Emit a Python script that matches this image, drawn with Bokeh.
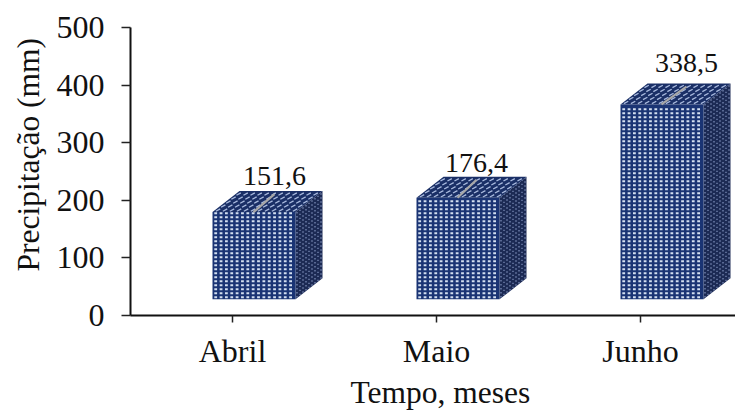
import numpy as np
from bokeh.embed import file_html
from bokeh.models import ColumnDataSource, FixedTicker, Label, Range1d, Title
from bokeh.plotting import figure
from bokeh.resources import INLINE

months = ["Abril", "Maio", "Junho"]
rain_mm = [151.6, 176.4, 338.5]
value_labels = ["151,6", "176,4", "338,5"]
y_ticks = [0, 100, 200, 300, 400, 500]

FONT = "Liberation Serif"
NAVY = "#1a3474"
TOP_NAVY = "#1a2f66"
SIDE_NAVY = "#1c2a54"
DOT = "#d3dff0"

W, H = 735, 411
LEFT, TOP, BOTTOM = 130, 27, 96
UNIT_X = 204.0          # pixels per category
UNIT_Y = 57.6 / 100.0   # pixels per millimetre
px = 1.0 / UNIT_X
py = 1.0 / UNIT_Y

floor_mm = 28.0         # the 3D floor lifts each column off the axis
bar_shift = 20 * px
bar_width = 83 * px
depth_x = 27 * px
depth_y = 21 * py

p = figure(width=W, height=H, output_backend="svg", toolbar_location=None,
           x_range=Range1d(0, (W - LEFT) / UNIT_X), y_range=Range1d(0, 500),
           min_border_left=LEFT, min_border_top=TOP, min_border_bottom=BOTTOM,
           min_border_right=0)
p.outline_line_color = None
p.grid.visible = False
p.background_fill_color = "white"

for ax, ticks in ((p.xaxis[0], [0.5, 1.5, 2.5]), (p.yaxis[0], y_ticks)):
    ax.ticker = FixedTicker(ticks=ticks)
    ax.axis_line_color = "#111111"
    ax.axis_line_width = 2
    ax.major_tick_line_color = "#222222"
    ax.major_tick_line_width = 1.5
    ax.major_tick_in = 0
    ax.minor_tick_line_color = None
    ax.major_label_text_font = FONT
    ax.major_label_text_font_size = "32px"
    ax.major_label_text_color = "#111111"
p.xaxis[0].major_tick_out = 7
p.yaxis[0].major_tick_out = 9
p.xaxis[0].major_label_overrides = {c + 0.5: m for c, m in enumerate(months)}
p.xaxis[0].major_label_standoff = 10
p.yaxis[0].major_label_standoff = 17


def add_dots(x, y, w, h, color):
    p.rect(x, y, width=w, height=h, fill_color=color, line_color=None)


for i, value in enumerate(rain_mm):
    x0 = i + 0.5 - bar_shift
    x1 = x0 + bar_width
    y0 = floor_mm
    y1 = floor_mm + value

    # side face
    p.patch([x1, x1 + depth_x, x1 + depth_x, x1],
            [y0, y0 + depth_y, y1 + depth_y, y1],
            fill_color=SIDE_NAVY, line_color=None)
    cols = np.arange(1.5, 27, 3.0)
    rows = np.arange(1.5, value * UNIT_Y, 4.0)
    cc, rr = np.meshgrid(cols, rows)
    sx = x1 + cc.ravel() * px
    sy = y0 + (rr.ravel() + cc.ravel() * 21 / 27) * py
    add_dots(sx, sy, 1.3 * px, 1.4 * py, "#7a8bb6")

    # top face
    p.patch([x0, x1, x1 + depth_x, x0 + depth_x],
            [y1, y1, y1 + depth_y, y1 + depth_y],
            fill_color=TOP_NAVY, line_color=None)
    us = np.arange(3, 83, 7.0)
    vs = np.arange(2, 21, 4.0)
    uu, vv = np.meshgrid(us, vs)
    tx = x0 + (uu.ravel() + vv.ravel() * 27 / 21) * px
    ty = y1 + vv.ravel() * py
    p.segment(tx - 2.2 * px, ty - 1.2 * py, tx + 2.2 * px, ty + 1.2 * py,
              line_color="#a9bade", line_width=1.3)

    # front face
    p.quad(left=[x0], right=[x1], bottom=[y0], top=[y1],
           fill_color=NAVY, line_color=None)
    cols = np.arange(3.2, 82, 5.35)
    rows = np.arange(2, value * UNIT_Y - 1, 4.0)
    cc, rr = np.meshgrid(cols, rows)
    add_dots(x0 + cc.ravel() * px, y0 + rr.ravel() * py, 2.8 * px, 2.0 * py, DOT)

# leader lines and value labels
label_dx = [22 * px, 20 * px, 26 * px]
label_gap = [15.5 * py, 14 * py, 20 * py]
tops = [floor_mm + v for v in rain_mm]
centres = [i + 0.5 for i in range(len(months))]
label_x = [c + d for c, d in zip(centres, label_dx)]
label_y = [t + depth_y + g for t, g in zip(tops, label_gap)]

leaders = ColumnDataSource(dict(
    x0=[c + 21 * px for c in centres],
    y0=tops,
    x1=[c + d + 20 * px for c, d in zip(centres, label_dx)],
    y1=[t + depth_y * 0.85 for t in tops],
))
p.segment("x0", "y0", "x1", "y1", source=leaders, line_color="#a8a8a8", line_width=2.2)

for x, y, text in zip(label_x, label_y, value_labels):
    p.add_layout(Label(x=x + 20 * px, y=y, text=text, text_font=FONT,
                       text_font_size="28px", text_color="#111111",
                       text_align="center", text_baseline="alphabetic"))

# axis titles sit off-centre relative to the plot frame, so they are side-panel titles
p.add_layout(Title(text="Precipitação (mm)", align="left", offset=44, standoff=16,
                   text_font=FONT, text_font_size="31.5px", text_font_style="normal",
                   text_color="#111111"), "left")
p.add_layout(Title(text="Tempo, meses", align="left", offset=220, standoff=2,
                   text_font=FONT, text_font_size="31.5px", text_font_style="normal",
                   text_color="#111111"), "below")

open("out.html", "w").write(file_html(p, INLINE))
